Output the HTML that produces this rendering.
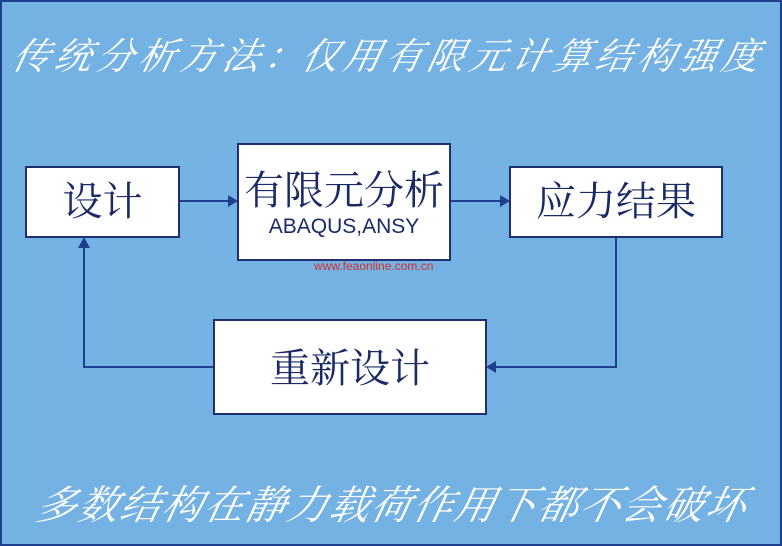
<!DOCTYPE html>
<html><head><meta charset="utf-8"><style>
body{margin:0;width:782px;height:546px;overflow:hidden;background:#75b2e4;}
.frame{position:absolute;left:0;top:0;width:778px;height:542px;border:2px solid #1f3f8f;background:#75b2e4;}
.t{position:absolute;color:#fff;font-family:"Liberation Serif","Noto Serif CJK SC",serif;font-style:italic;white-space:nowrap;transform:skewX(-12deg);}
.b{position:absolute;background:#fff;border:2px solid #1f2f70;box-sizing:border-box;color:#1a2a66;font-family:"Liberation Serif","Noto Serif CJK SC",serif;text-align:center;}
</style></head><body>
<div class="frame"></div>
<div class="t" style="left:14px;top:26px;font-size:37px;letter-spacing:5px;">传统分析方法<span style="display:inline-block;width:37px;">：</span>仅用有限元计算结构强度</div>
<div class="t" style="left:38px;top:474px;font-size:40px;letter-spacing:1.8px;">多数结构在静力载荷作用下都不会破坏</div>
<div class="b" style="left:25px;top:166px;width:155px;height:72px;font-size:40px;line-height:68px;">设计</div>
<div class="b" style="left:237px;top:143px;width:214px;height:118px;">
<div style="font-size:40px;line-height:40px;margin-top:26px;">有限元分析</div>
<div style="font-family:'Liberation Sans',sans-serif;font-size:21px;margin-top:4px;">ABAQUS,ANSY</div></div>
<div class="b" style="left:509px;top:166px;width:214px;height:72px;font-size:40px;line-height:68px;">应力结果</div>
<div class="b" style="left:213px;top:319px;width:274px;height:96px;font-size:40px;line-height:96px;">重新设计</div>
<div style="position:absolute;left:314px;top:259px;font-family:'Liberation Sans',sans-serif;font-size:12px;color:#d03030;">www.feaonline.com.cn</div>
<svg width="782" height="546" style="position:absolute;left:0;top:0">
<g stroke="#1f3f8f" stroke-width="2" fill="none">
<line x1="180" y1="201" x2="230" y2="201"/>
<line x1="451" y1="201" x2="502" y2="201"/>
<polyline points="616,238 616,367 494,367"/>
<polyline points="213,367 84,367 84,246"/>
</g>
<g fill="#1f3f8f">
<polygon points="238,201 228,195 228,207"/>
<polygon points="510,201 500,195 500,207"/>
<polygon points="486,367 496,361 496,373"/>
<polygon points="84,237 78,248 90,248"/>
</g></svg>
</body></html>
